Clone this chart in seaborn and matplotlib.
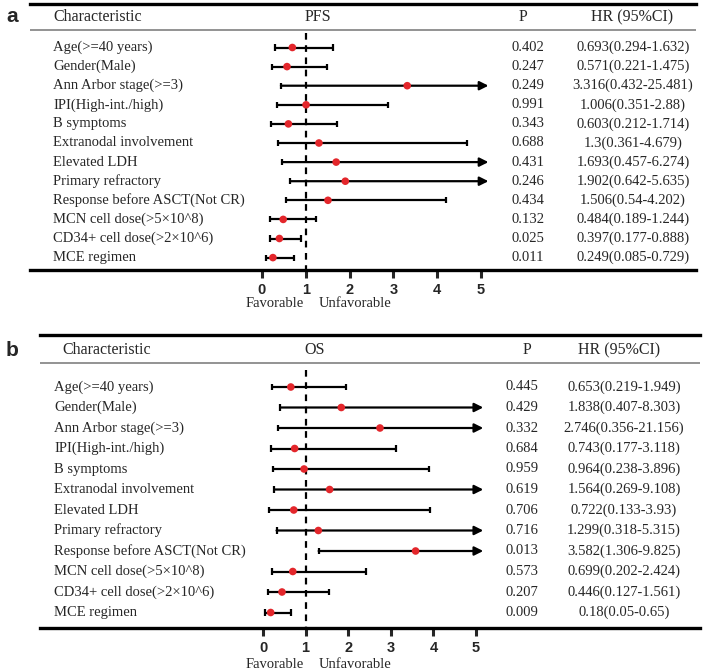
import numpy as np
import pandas as pd
import matplotlib
matplotlib.use("Agg")
import matplotlib.pyplot as plt
import matplotlib.transforms as mtransforms
import seaborn as sns

# rows shared by both panels
characteristics = [
    "Age(>=40 years)", "Gender(Male)", "Ann Arbor stage(>=3)", "IPI(High-int./high)",
    "B symptoms", "Extranodal involvement", "Elevated LDH", "Primary refractory",
    "Response before ASCT(Not CR)", "MCN cell dose(>5×10^8)", "CD34+ cell dose(>2×10^6)",
    "MCE regimen",
]

# panel a - PFS
pfs_hr = [0.693, 0.571, 3.316, 1.006, 0.603, 1.3, 1.693, 1.902, 1.506, 0.484, 0.397, 0.249]
pfs_low = [0.294, 0.221, 0.432, 0.351, 0.212, 0.361, 0.457, 0.642, 0.54, 0.189, 0.177, 0.085]
pfs_high = [1.632, 1.475, 25.481, 2.88, 1.714, 4.679, 6.274, 5.635, 4.202, 1.244, 0.888, 0.729]
pfs_p = [0.402, 0.247, 0.249, 0.991, 0.343, 0.688, 0.431, 0.246, 0.434, 0.132, 0.025, 0.011]

# panel b - OS
os_hr = [0.653, 1.838, 2.746, 0.743, 0.964, 1.564, 0.722, 1.299, 3.582, 0.699, 0.446, 0.18]
os_low = [0.219, 0.407, 0.356, 0.177, 0.238, 0.269, 0.133, 0.318, 1.306, 0.202, 0.127, 0.05]
os_high = [1.949, 8.303, 21.156, 3.118, 3.896, 9.108, 3.93, 5.315, 9.825, 2.424, 1.561, 0.65]
os_p = [0.445, 0.429, 0.332, 0.684, 0.959, 0.619, 0.706, 0.716, 0.013, 0.573, 0.207, 0.009]

x_ticks = [0, 1, 2, 3, 4, 5]
ARROW_END = 5.17

W, H = 709, 672
sns.set_style("white")
plt.rcParams['font.family'] = ['Liberation Serif', 'DejaVu Serif']

fig = plt.figure(figsize=(W / 100, H / 100), dpi=100)


def fx(px):
    return px / W


def draw_panel(rect, xlim, ylim, hr, low, high, pvals, title, letter, cols, header_y,
               header_line_y, dash_top, fav_y_px):
    left, top, right, bottom = rect
    ax = fig.add_axes([fx(left), 1 - bottom / H, fx(right - left), (bottom - top) / H])
    ax.set_xlim(*xlim)
    ax.set_ylim(*ylim)

    df = pd.DataFrame({"name": characteristics, "hr": hr, "low": low, "high": high, "p": pvals})
    df["row"] = np.arange(len(df))
    df["label"] = [f"{h:g}({l:g}-{u:g})" for h, l, u in zip(df.hr, df.low, df.high)]

    cap = 0.16
    for _, r in df.iterrows():
        if r.high > ARROW_END:
            ax.annotate("", xy=(ARROW_END, r.row), xytext=(r.low, r.row),
                        arrowprops=dict(arrowstyle="-|>", color="black", lw=1.6,
                                        mutation_scale=13, shrinkA=0, shrinkB=0))
        else:
            ax.hlines(r.row, r.low, r.high, color="black", lw=1.6)
            ax.vlines(r.high, r.row - cap, r.row + cap, color="black", lw=1.6)
        ax.vlines(r.low, r.row - cap, r.row + cap, color="black", lw=1.6)

    sns.scatterplot(data=df, x="hr", y="row", color="#e3262b", s=30, edgecolor="none",
                    ax=ax, zorder=4, legend=False)

    ax.vlines(1, dash_top, ylim[0], color="black", lw=1.6, linestyles=(0, (3, 2.5)))

    # table texts (x in figure coords, y in data)
    tr = mtransforms.blended_transform_factory(fig.transFigure, ax.transData)
    fs = 10.5
    hs = 11.5
    ax.text(fx(cols["char_h"]), header_y, "Characteristic", transform=tr, fontsize=hs,
            va="center", ha="left")
    ax.text(fx(cols["title"]), header_y, title, transform=tr, fontsize=hs, va="center", ha="center")
    ax.text(fx(cols["p_h"]), header_y, "P", transform=tr, fontsize=hs, va="center", ha="center")
    ax.text(fx(cols["hr_h"]), header_y, "HR (95%CI)", transform=tr, fontsize=hs,
            va="center", ha="center")
    for _, r in df.iterrows():
        ax.text(fx(cols["char"]), r.row, r["name"], transform=tr, fontsize=fs, va="center", ha="left")
        ax.text(fx(cols["p"]), r.row, f"{r.p:.3f}", transform=tr, fontsize=fs, va="center", ha="center")
        ax.text(fx(cols["hr"]), r.row, r.label, transform=tr, fontsize=fs, va="center", ha="center")

    ax.axhline(header_line_y, color="#8a8a8a", lw=1.3)

    for s in ["left", "right"]:
        ax.spines[s].set_visible(False)
    for s in ["top", "bottom"]:
        ax.spines[s].set_linewidth(2.4)
        ax.spines[s].set_color("black")

    ax.set_yticks([])
    ax.set_xticks(x_ticks)
    ax.tick_params(axis="x", direction="out", length=6, width=2.2, pad=3, bottom=True)
    for lbl in ax.get_xticklabels():
        lbl.set_fontfamily("Liberation Sans")
        lbl.set_fontweight("bold")
        lbl.set_fontsize(10.5)
    ax.set_xlabel("")
    ax.set_ylabel("")

    trx = mtransforms.blended_transform_factory(ax.transData, fig.transFigure)
    ax.text(0.95, 1 - fav_y_px / H, "Favorable", transform=trx, fontsize=fs, ha="right", va="center")
    ax.text(1.3, 1 - fav_y_px / H, "Unfavorable", transform=trx, fontsize=fs, ha="left", va="center")

    fig.text(fx(letter[1]), 1 - letter[2] / H, letter[0], fontfamily="Liberation Sans",
             fontweight="bold", fontsize=15, ha="center", va="center")
    return ax


# panel a: 0 -> 262 px, 5 -> 481 px
sa = (481 - 262) / 5
draw_panel((30, 4, 696, 270), ((30 - 262) / sa, (696 - 262) / sa),
           ((270 - 47.5) / 19.1, (4 - 47.5) / 19.1),
           pfs_hr, pfs_low, pfs_high, pfs_p, "PFS", ("a", 12, 16),
           dict(char_h=53, char=53, title=318, p_h=523, hr_h=632, p=528, hr=633),
           (17 - 47.5) / 19.1, (30 - 47.5) / 19.1, (33 - 47.5) / 19.1, 304)

# panel b: 0 -> 263 px, 5 -> 476 px
sb = (476 - 263) / 5
draw_panel((40, 335, 700, 628), ((40 - 263) / sb, (700 - 263) / sb),
           ((628 - 387) / 20.5, (335 - 387) / 20.5),
           os_hr, os_low, os_high, os_p, "OS", ("b", 12, 351),
           dict(char_h=62, char=54, title=315, p_h=527, hr_h=619, p=522, hr=624),
           (350 - 387) / 20.5, (363 - 387) / 20.5, (370 - 387) / 20.5, 664)

fig.savefig("out.png", dpi=100)
